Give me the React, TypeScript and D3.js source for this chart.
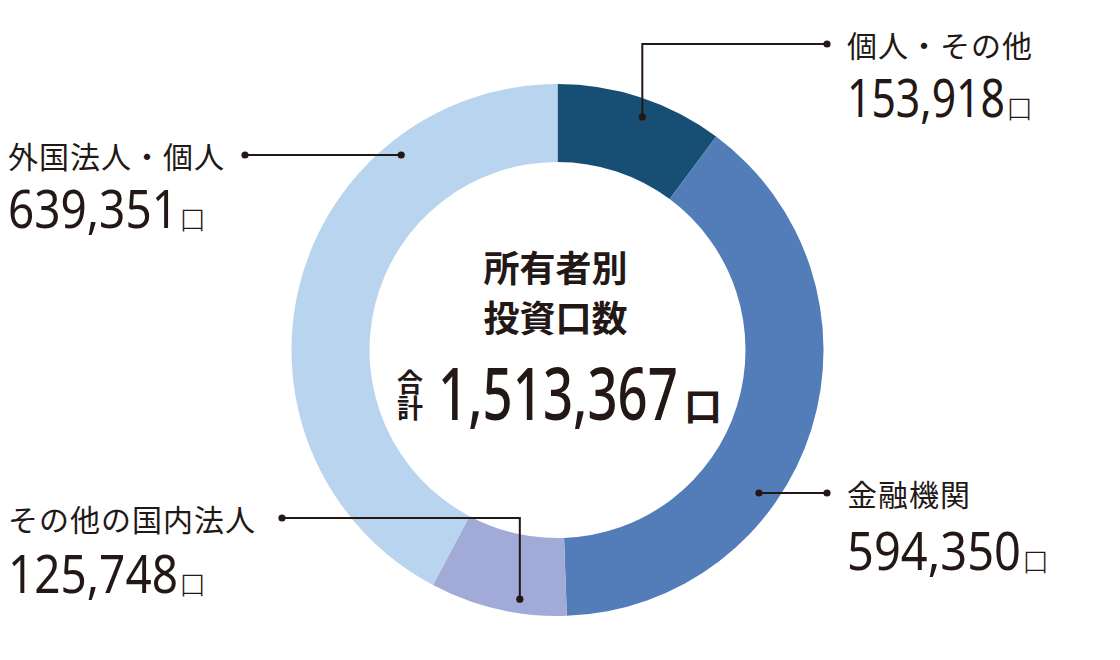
import { useEffect, useRef } from "react";
import * as d3 from "d3";

// owner categories, clockwise from 12 o'clock
const categories = ["個人・その他", "金融機関", "その他の国内法人", "外国法人・個人"];
const units = [153918, 594350, 125748, 639351];
const colors = ["#174f74", "#537db9", "#a2abd7", "#b9d4ee"];
const titleLines = ["所有者別", "投資口数"];
const totalLabel = "合計";
const unitMark = "口";

const W = 1120;
const H = 660;
const CX = 557.5;
const CY = 350;
const R_OUT = 266;
const R_IN = 188;

// label placement: text position, number baseline/width, anchor angle (deg) on the ring
const layout = [
  { tx: 847, ty: 44, nb: 117, nw: 158, ang: 20, r: 248, lineEnd: 827 },
  { tx: 847, ty: 493, nb: 570, nw: 174, ang: 126, r: 249, lineEnd: 827 },
  { tx: 8, ty: 518, nb: 593, nw: 170, ang: 188.6, r: 252, lineEnd: 282 },
  { tx: 8, ty: 155, nb: 228, nw: 170, ang: 321.3, r: 250, lineEnd: 245 },
];

// squeeze a text horizontally to a target width (condensed numerals)
function condensed(
  parent: d3.Selection<SVGSVGElement | null, unknown, null, undefined>,
  str: string,
  x: number,
  y: number,
  width: number,
  size: number,
  weight: number,
  fill: string
) {
  const t = parent.append("text")
    .attr("font-family", "'Noto Sans', sans-serif")
    .attr("font-size", size)
    .attr("font-weight", weight)
    .attr("fill", fill)
    .text(str);
  const natural = (t.node() as SVGTextElement).getComputedTextLength() || width;
  t.attr("transform", `translate(${x},${y}) scale(${width / natural},1)`);
  return t;
}

export default function App() {
  const svgRef = useRef<SVGSVGElement | null>(null);

  useEffect(() => {
    const svg = d3.select(svgRef.current);
    svg.selectAll("*").remove();

    const pie = d3.pie<number>().sort(null).value(d => d);
    const arc = d3.arc<d3.PieArcDatum<number>>().innerRadius(R_IN).outerRadius(R_OUT);
    const g = svg.append("g").attr("transform", `translate(${CX},${CY})`);

    g.selectAll("path")
      .data(pie(units))
      .enter()
      .append("path")
      .attr("d", arc)
      .attr("fill", (_, i) => colors[i]);

    const fmt = d3.format(",");
    const ink = "#231815";

    categories.forEach((name, i) => {
      const L = layout[i];
      const a = (L.ang * Math.PI) / 180;
      const ax = CX + L.r * Math.sin(a);
      const ay = CY - L.r * Math.cos(a);
      const pts: [number, number][] =
        Math.abs(ay - L.ty) > 4
          ? [[ax, ay], [ax, L.ty], [L.lineEnd, L.ty]]
          : [[ax, L.ty], [L.lineEnd, L.ty]];

      svg.append("path")
        .attr("d", d3.line()(pts))
        .attr("fill", "none")
        .attr("stroke", ink)
        .attr("stroke-width", 2);
      [pts[0], pts[pts.length - 1]].forEach(p => {
        svg.append("circle").attr("cx", p[0]).attr("cy", p[1]).attr("r", 3.6).attr("fill", ink);
      });

      svg.append("text")
        .attr("x", L.tx)
        .attr("y", L.ty)
        .attr("dominant-baseline", "central")
        .attr("font-family", "'Noto Sans CJK JP'")
        .attr("font-size", 30)
        .attr("letter-spacing", 1)
        .attr("fill", ink)
        .text(name);

      condensed(svg, fmt(units[i]), L.tx, L.nb, L.nw, 52, 400, ink);

      svg.append("text")
        .attr("x", L.tx + L.nw + 1)
        .attr("y", L.nb + 2)
        .attr("font-family", "'Noto Sans CJK JP'")
        .attr("font-weight", 300)
        .attr("font-size", 27)
        .attr("fill", ink)
        .text(unitMark);
    });

    // centre block
    titleLines.forEach((t, i) => {
      svg.append("text")
        .attr("x", CX - 2)
        .attr("y", 266 + i * 50)
        .attr("text-anchor", "middle")
        .attr("dominant-baseline", "central")
        .attr("font-family", "'Noto Sans CJK JP'")
        .attr("font-weight", 700)
        .attr("font-size", 36)
        .attr("fill", ink)
        .text(t);
    });

    // 合計 set vertically
    svg.append("text")
      .attr("x", 410)
      .attr("y", 369)
      .style("writing-mode", "vertical-rl")
      .attr("font-family", "'Noto Sans CJK JP'")
      .attr("font-weight", 700)
      .attr("font-size", 26)
      .attr("fill", ink)
      .text(totalLabel);

    condensed(svg, fmt(d3.sum(units)), 438, 420, 240, 73, 500, ink);

    svg.append("text")
      .attr("x", 684)
      .attr("y", 420)
      .attr("font-family", "'Noto Sans CJK JP'")
      .attr("font-weight", 700)
      .attr("font-size", 38)
      .attr("fill", ink)
      .text(unitMark);
  }, []);

  return (
    <svg
      ref={svgRef}
      width={W}
      height={H}
      style={{ position: "absolute", left: 0, top: 0, background: "#fff" }}
    />
  );
}
